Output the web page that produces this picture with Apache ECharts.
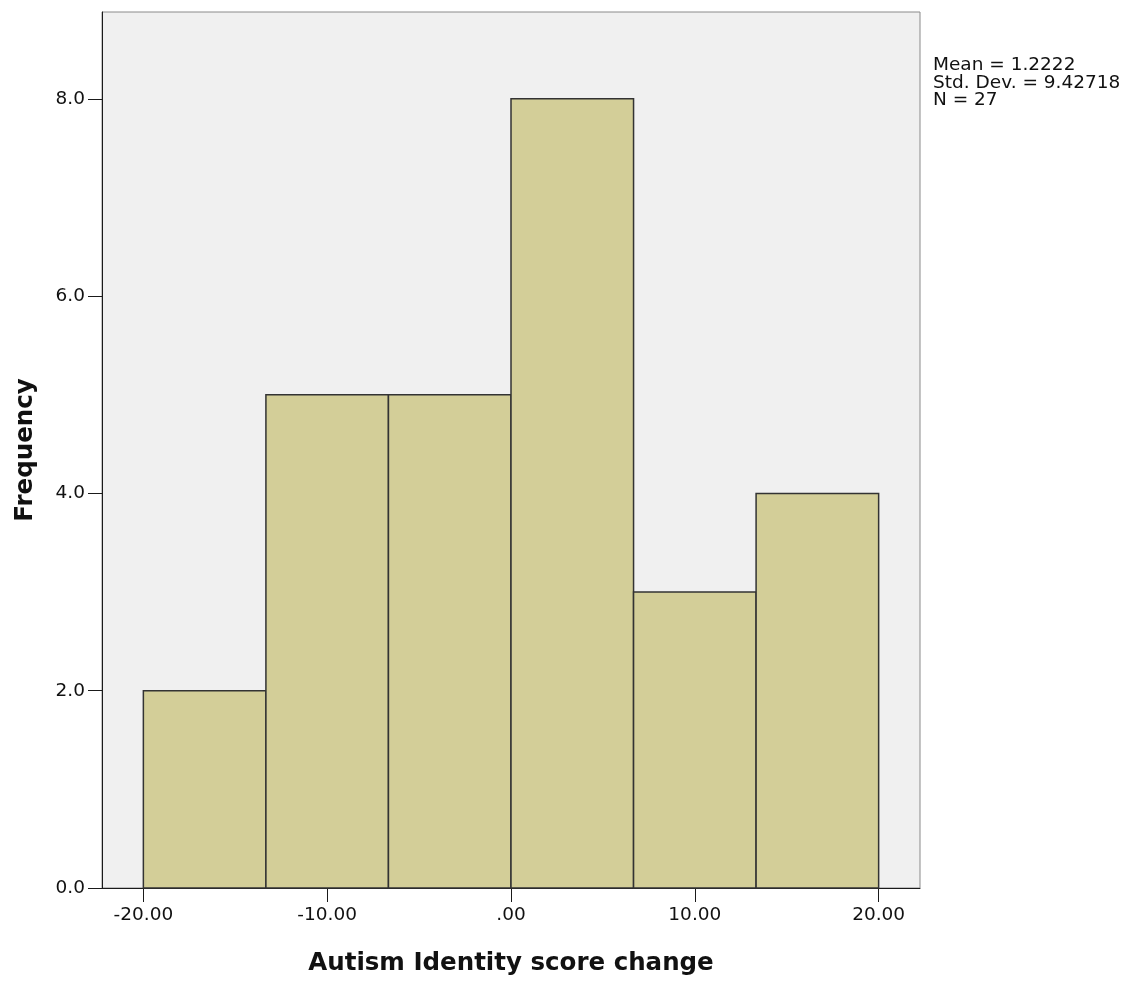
<!DOCTYPE html>
<html>
<head>
<meta charset="utf-8">
<script src="https://cdn.jsdelivr.net/npm/echarts@6/dist/echarts.min.js"></script>
<style>
html,body{margin:0;padding:0;background:#fff;}
#chart{width:1131px;height:986px;}
</style>
</head>
<body>
<div id="chart"></div>
<script>
// Data
const binEdges = [-20, -13.333, -6.667, 0, 6.667, 13.333, 20];
const counts = [2, 5, 5, 8, 3, 4];
const xTicks = [-20, -10, 0, 10, 20];
const yTicks = [0, 2, 4, 6, 8];
const statsLines = ['Mean = 1.2222', 'Std. Dev. = 9.42718', 'N = 27'];
const xTitle = 'Autism Identity score change';
const yTitle = 'Frequency';

const bins = counts.map((c, i) => [binEdges[i], binEdges[i + 1], c]);

const FONT = 'DejaVu Sans';
const chart = echarts.init(document.getElementById('chart'));
chart.setOption({
  animation: false,
  backgroundColor: '#ffffff',
  grid: {
    left: 102, top: 12, right: 211, bottom: 98,
    show: true, backgroundColor: '#f0f0f0', borderColor: '#8a8a8a', borderWidth: 1
  },
  xAxis: {
    type: 'value', min: -22.25, max: 22.25,
    name: xTitle, nameLocation: 'middle', nameGap: 63,
    nameTextStyle: { fontFamily: FONT, fontWeight: 'bold', fontSize: 24.5, color: '#111' },
    axisLine: { show: true, onZero: false, lineStyle: { color: '#1a1a1a', width: 1 } },
    axisTick: { show: true, length: 14, customValues: xTicks, lineStyle: { color: '#1a1a1a', width: 1 } },
    axisLabel: {
      customValues: xTicks, margin: 18, fontFamily: FONT, fontSize: 18.5, color: '#111',
      formatter: v => {
        const s = Math.abs(v).toFixed(2);
        const t = s.startsWith('0') ? s.slice(1) : s;
        return (v < 0 ? '-' : '') + t;
      }
    },
    splitLine: { show: false }
  },
  yAxis: {
    type: 'value', min: 0, max: 8.88,
    name: yTitle, nameLocation: 'middle', nameGap: 64, nameRotate: 90,
    nameTextStyle: { fontFamily: FONT, fontWeight: 'bold', fontSize: 24.5, color: '#111' },
    axisLine: { show: true, onZero: false, lineStyle: { color: '#1a1a1a', width: 1 } },
    axisTick: { show: true, length: 14, customValues: yTicks, lineStyle: { color: '#1a1a1a', width: 1 } },
    axisLabel: {
      customValues: yTicks, margin: 17, fontFamily: FONT, fontSize: 18.5, color: '#111',
      padding: [5, 0, 0, 0],
      formatter: v => v.toFixed(1)
    },
    splitLine: { show: false }
  },
  series: [{
    type: 'custom',
    data: bins,
    encode: { x: [0, 1], y: 2 },
    renderItem: function (params, api) {
      const p0 = api.coord([api.value(0), api.value(2)]);
      const p1 = api.coord([api.value(1), 0]);
      return {
        type: 'rect',
        shape: { x: p0[0], y: p0[1], width: p1[0] - p0[0], height: p1[1] - p0[1] },
        style: { fill: '#d3ce98', stroke: '#333333', lineWidth: 1.5 }
      };
    }
  }],
  graphic: [{
    type: 'text', left: 933, top: 56,
    style: { text: statsLines.join('\n'), fontFamily: FONT, fontSize: 18.5, lineHeight: 17.5, fill: '#111' }
  }]
});
</script>
</body>
</html>
